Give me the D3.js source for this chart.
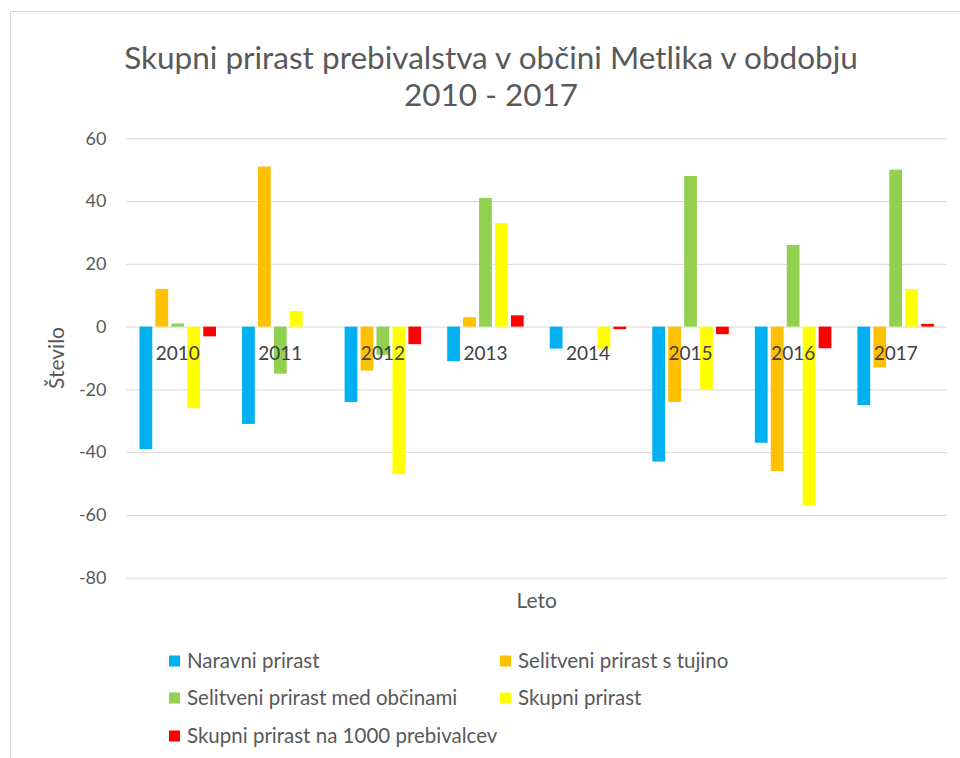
<!DOCTYPE html>
<html>
<head>
<meta charset="utf-8">
<script src="https://cdn.jsdelivr.net/npm/d3@7"></script>
<style>
  body { margin: 0; background: #fff; }
  text { font-family: Lato, "Open Sans", sans-serif; }
</style>
</head>
<body>
<svg id="chart"></svg>
<script>
// data
var years = ["2010", "2011", "2012", "2013", "2014", "2015", "2016", "2017"]
var seriesNames = ["Naravni prirast", "Selitveni prirast s tujino", "Selitveni prirast med občinami",
  "Skupni prirast", "Skupni prirast na 1000 prebivalcev"]
var naravni = [-39, -31, -24, -11, -7, -43, -37, -25]
var tujina = [12, 51, -14, 3, 0, -24, -46, -13]
var medObcinami = [1, -15, -9, 41, 0, 48, 26, 50]
var skupni = [-26, 5, -47, 33, -7, -20, -57, 12]
var na1000 = [-3.1, 0, -5.6, 3.6, -0.8, -2.4, -6.9, 0.9]
var yTicks = [60, 40, 20, 0, -20, -40, -60, -80]
var colors = ["#00B0F0", "#FFC000", "#92D050", "#FFFF00", "#FF0000"]

var allSeries = [naravni, tujina, medObcinami, skupni, na1000]

var screen = {width: 960, height: 758}
var margin = {left: 126.5, right: 13, top: 138.3}
var plotW = screen.width - margin.left - margin.right

var svg = d3.select("#chart")
  .attr("width", screen.width)
  .attr("height", screen.height)

// chart area border
svg.append("rect")
  .attr("x", 10.5).attr("y", 11.5)
  .attr("width", 960).attr("height", 760)
  .attr("fill", "#fff")
  .attr("stroke", "#d9d9d9")

// title
var title = svg.append("text")
  .attr("text-anchor", "middle")
  .attr("fill", "#595959")
  .attr("font-size", 31.5)
title.append("tspan").attr("x", 491).attr("y", 69).text("Skupni prirast prebivalstva v občini Metlika v obdobju")
title.append("tspan").attr("x", 491).attr("y", 106).text("2010 - 2017")

var yScale = d3.scaleLinear()
  .domain([-80, 60])
  .range([577.7, 138.3])

var xScale = d3.scaleBand()
  .domain(years)
  .range([0, plotW])

var x1 = d3.scaleBand()
  .domain(d3.range(seriesNames.length))
  .range([13, 89.5])
  .paddingInner(0.2)

var g = svg.append("g").attr("transform", "translate(" + margin.left + ",0)")

// y axis with gridlines
var yAxis = d3.axisLeft(yScale)
  .tickValues(yTicks)
  .tickFormat(function(d){ return String(d) })
  .tickSize(-plotW)
  .tickPadding(20)
g.append("g").call(yAxis)
  .call(function(a){
    a.select(".domain").remove()
    a.selectAll("line").attr("stroke", "#d9d9d9")
    a.selectAll("text")
      .attr("fill", "#595959")
      .attr("font-size", 18)
      .attr("font-family", "Lato, sans-serif")
  })

// bars
var groups = g.selectAll(".year")
  .data(years)
  .enter()
  .append("g")
  .attr("transform", function(d){ return "translate(" + xScale(d) + ",0)" })

groups.selectAll("rect")
  .data(function(d, i){
    return allSeries.map(function(s, j){ return {s: j, v: s[i]} })
  })
  .enter()
  .append("rect")
  .attr("x", function(d){ return x1(d.s) })
  .attr("width", x1.bandwidth())
  .attr("y", function(d){ return yScale(Math.max(0, d.v)) })
  .attr("height", function(d){ return Math.abs(yScale(d.v) - yScale(0)) })
  .attr("fill", function(d){ return colors[d.s] })

// category labels sit next to the zero line
var xAxis = d3.axisBottom(xScale).tickSize(0).tickPadding(20)
g.append("g")
  .attr("transform", "translate(0," + yScale(0) + ")")
  .call(xAxis)
  .call(function(a){
    a.select(".domain").remove()
    a.selectAll("text")
      .attr("fill", "#404040")
      .attr("font-size", 19)
      .attr("font-family", "Lato, sans-serif")
  })

// axis titles
svg.append("text")
  .attr("x", margin.left + plotW / 2)
  .attr("y", 608)
  .attr("text-anchor", "middle")
  .attr("fill", "#595959")
  .attr("font-size", 21)
  .text("Leto")

svg.append("text")
  .attr("transform", "translate(64,358) rotate(-90)")
  .attr("text-anchor", "middle")
  .attr("fill", "#595959")
  .attr("font-size", 21)
  .text("Število")

// legend
var legendPos = [[169, 661], [500, 661], [169, 698], [500, 698], [169, 736]]
var legend = svg.selectAll(".legend")
  .data(seriesNames)
  .enter()
  .append("g")
  .attr("transform", function(d, i){ return "translate(" + legendPos[i][0] + "," + legendPos[i][1] + ")" })

legend.append("rect")
  .attr("x", 0).attr("y", -5.5)
  .attr("width", 11).attr("height", 11)
  .attr("fill", function(d, i){ return colors[i] })

legend.append("text")
  .attr("x", 18)
  .attr("y", 7)
  .attr("fill", "#595959")
  .attr("font-size", 20.5)
  .text(function(d){ return d })
</script>
</body>
</html>
